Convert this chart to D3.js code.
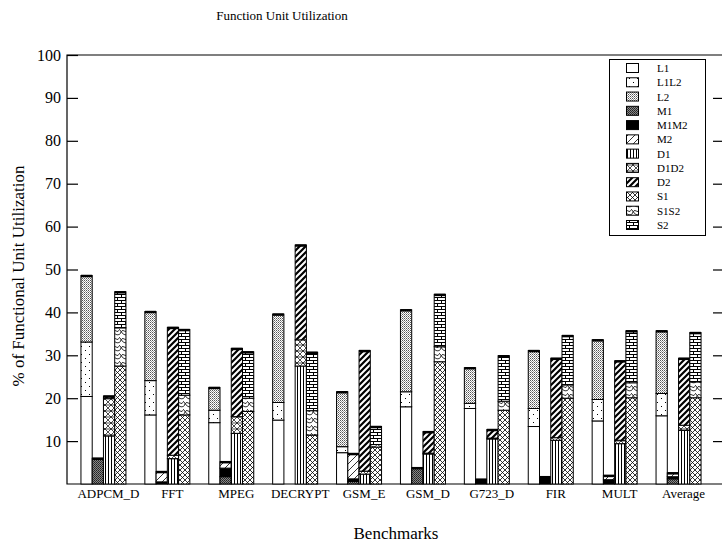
<!DOCTYPE html>
<html>
<head>
<meta charset="utf-8">
<script src="https://d3js.org/d3.v7.min.js"></script>
<style>
  html, body { margin: 0; padding: 0; background: #fff; }
  svg { display: block; font-family: "Liberation Serif", "Times New Roman", serif; }
</style>
</head>
<body>
<svg id="chart" width="722" height="546"></svg>
<script>
/* benchmarks and the four unit groups (L, M, D, S) */
const benchmarks = ["ADPCM_D","FFT","MPEG","DECRYPT","GSM_E","GSM_D","G723_D","FIR","MULT","Average"];
const units = ["L","M","D","S"];
const yTicks = [10,20,30,40,50,60,70,80,90,100];

/* % utilisation */
const L1   = [20.4, 16.1, 14.3, 14.9,  7.3, 18.0, 17.6, 13.4, 14.7, 15.9];
const L1L2 = [12.7,  8.0,  2.9,  4.1,  1.4,  3.5,  1.2,  4.2,  5.0,  5.2];
const L2   = [15.5, 16.1,  5.3, 20.6, 12.8, 19.1,  8.3, 13.5, 13.9, 14.6];
const M1   = [ 6.0,  0.0,  1.7,  0.0,  0.6,  3.8,  0.0,  0.0,  0.0,  1.2];
const M1M2 = [ 0.0,  0.5,  2.0,  0.0,  0.6,  0.0,  1.0,  1.4,  1.0,  0.5];
const M2   = [ 0.0,  2.4,  1.5,  0.0,  5.9,  0.0,  0.1,  0.3,  1.0,  0.9];
const D1   = [11.2,  5.9, 11.8, 27.5,  2.3,  7.0, 10.5, 10.2,  9.4, 12.5];
const D1D2 = [ 8.8,  0.8,  3.9,  6.1,  0.7,  0.2,  0.2,  0.6,  0.8,  1.2];
const D2   = [ 0.5, 29.8, 15.9, 22.1, 28.1,  5.0,  2.0, 18.5, 18.5, 15.6];
const S1   = [27.5, 16.1, 16.9, 11.4,  8.6, 28.5, 17.2, 20.0, 20.1, 20.1];
const S1S2 = [ 8.9,  4.6,  3.1,  5.7,  0.6,  3.5,  2.1,  3.1,  3.5,  3.7];
const S2   = [ 8.4, 15.3, 10.8, 13.6,  4.2, 12.2, 10.6, 11.5, 12.1, 11.5];

const series = {L1, L1L2, L2, M1, M1M2, M2, D1, D1D2, D2, S1, S1S2, S2};
const keys = Object.keys(series);
const unitKeys = { L:["L1","L1L2","L2"], M:["M1","M1M2","M2"], D:["D1","D1D2","D2"], S:["S1","S1S2","S2"] };

/* one row per benchmark */
const rows = benchmarks.map((b,i) => {
  const r = {bench:b};
  keys.forEach(k => r[k] = series[k][i]);
  return r;
});

const svg = d3.select("#chart");
const pLeft = 67, pRight = 724, pTop = 55, pBottom = 484;

const x  = d3.scaleBand().domain(benchmarks).range([71.5, 710.5]);
const xu = d3.scaleBand().domain(units).range([-22.5, 22.5]);
const y  = d3.scaleLinear().domain([0,100]).range([pBottom, pTop]);

/*────────── fill patterns ──────────*/
const defs = svg.append("defs");
function pat(id, w, h, draw){
  const p = defs.append("pattern").attr("id", id)
    .attr("patternUnits","userSpaceOnUse").attr("width", w).attr("height", h);
  p.append("rect").attr("width", w).attr("height", h).attr("fill", "#fff");
  draw(p);
}
pat("p-L1", 4, 4, () => {});
pat("p-L1L2", 8, 8, p => {
  p.append("rect").attr("x",1).attr("y",2).attr("width",1).attr("height",1).attr("fill","#000");
  p.append("rect").attr("x",5).attr("y",6).attr("width",1).attr("height",1).attr("fill","#000");
});
pat("p-L2", 2, 2, p => {
  p.append("rect").attr("width",1).attr("height",1).attr("fill","#555");
  p.append("rect").attr("x",1).attr("y",1).attr("width",1).attr("height",1).attr("fill","#999");
});
pat("p-M1", 2, 2, p => {
  p.select("rect").attr("fill","#888");
  p.append("rect").attr("width",1).attr("height",1).attr("fill","#222");
  p.append("rect").attr("x",1).attr("y",1).attr("width",1).attr("height",1).attr("fill","#333");
});
pat("p-M1M2", 2, 2, p => p.select("rect").attr("fill","#000"));
pat("p-M2", 7, 7, p => {
  p.append("path").attr("d","M0,7L7,0M-1,1L1,-1M6,8L8,6").attr("stroke","#000").attr("stroke-width",0.8);
});
pat("p-D1", 3, 3, p => {
  p.append("rect").attr("x",0).attr("width",1).attr("height",3).attr("fill","#000");
});
pat("p-D1D2", 6, 6, p => {
  p.append("path").attr("d","M0,0L6,6M6,0L0,6M0,3L6,3")
    .attr("stroke","#000").attr("stroke-width",0.7).attr("fill","none");
});
pat("p-D2", 6, 6, p => {
  p.append("path").attr("d","M0,6L6,0M-1.5,1.5L1.5,-1.5M4.5,7.5L7.5,4.5")
    .attr("stroke","#000").attr("stroke-width",2.2);
});
pat("p-S1", 5, 5, p => {
  p.append("path").attr("d","M0,0L5,5M5,0L0,5")
    .attr("stroke","#000").attr("stroke-width",0.8).attr("fill","none");
});
pat("p-S1S2", 8, 8, p => {
  p.append("path").attr("d","M0,6Q2,1 4,3T8,1M0,2Q4,9 8,6")
    .attr("stroke","#000").attr("stroke-width",0.8).attr("fill","none");
});
pat("p-S2", 8, 6, p => {
  p.append("path").attr("d","M0,0.5H8M0,3.5H8M1.5,0.5V3.5M5.5,3.5V6")
    .attr("stroke","#000").attr("stroke-width",1).attr("fill","none");
});

/*────────── frame + ticks ──────────*/
const frame = svg.append("g").attr("stroke","#000").attr("stroke-width",1.2).attr("fill","none");
frame.append("path").attr("d", `M${pRight},${pTop}H${pLeft}V${pBottom}H${pRight}V${pTop}`);

const gl = svg.append("g").attr("transform", `translate(${pLeft},0)`)
  .call(d3.axisRight(y).tickValues(yTicks).tickSize(11).tickFormat(""));
gl.select(".domain").remove();
gl.selectAll("line").attr("stroke","#000").attr("stroke-width",1.2);

const gr = svg.append("g").attr("transform", `translate(${pRight},0)`)
  .call(d3.axisLeft(y).tickValues(yTicks.slice(0,-1)).tickSize(11).tickFormat(""));
gr.select(".domain").remove();
gr.selectAll("line").attr("stroke","#000").attr("stroke-width",1.2);

svg.append("g").selectAll("text").data(yTicks).join("text")
  .attr("x", 61).attr("y", d => y(d) + 5.5)
  .attr("text-anchor","end").attr("font-size",16).text(d => d);

svg.append("g").selectAll("text").data(benchmarks).join("text")
  .attr("x", d => x(d) + x.bandwidth()/2 + 5).attr("y", 498)
  .attr("text-anchor","middle").attr("font-size",13).text(d => d);

/*────────── bars ──────────*/
const barW = xu.bandwidth();
units.forEach(u => {
  const stacked = d3.stack().keys(unitKeys[u])(rows);
  const g = svg.append("g");
  stacked.forEach(layer => {
    g.selectAll(null).data(layer.filter(d => d[1] - d[0] > 0)).join("rect")
      .attr("x", d => x(d.data.bench) + x.bandwidth()/2 + xu(u))
      .attr("y", d => y(d[1]))
      .attr("width", barW)
      .attr("height", d => y(d[0]) - y(d[1]))
      .attr("fill", `url(#p-${layer.key})`)
      .attr("stroke","#000").attr("stroke-width",1);
  });
  /* heavy top edge of each stack */
  const last = stacked[stacked.length-1];
  g.selectAll(null).data(last.filter(d => d[1] > 0)).join("line")
    .attr("x1", d => x(d.data.bench) + x.bandwidth()/2 + xu(u))
    .attr("x2", d => x(d.data.bench) + x.bandwidth()/2 + xu(u) + barW)
    .attr("y1", d => y(d[1]) + 0.5).attr("y2", d => y(d[1]) + 0.5)
    .attr("stroke","#000").attr("stroke-width",2.5);
});

/*────────── legend ──────────*/
const lg = svg.append("g");
lg.append("rect").attr("x",609.5).attr("y",59.5).attr("width",96).attr("height",176)
  .attr("fill","#fff").attr("stroke","#000").attr("stroke-width",1);
const ly = d3.scalePoint().domain(keys).range([68, 225]);
lg.selectAll("rect.sw").data(keys).join("rect").attr("class","sw")
  .attr("x",626.5).attr("y", d => ly(d) - 4.5).attr("width",12).attr("height",9)
  .attr("fill", d => `url(#p-${d})`).attr("stroke","#000").attr("stroke-width",1);
lg.selectAll("text").data(keys).join("text")
  .attr("x",657).attr("y", d => ly(d) + 4)
  .attr("font-size",11).text(d => d);

/*────────── titles ──────────*/
svg.append("text").attr("x",282).attr("y",20).attr("text-anchor","middle")
  .attr("font-size",13).text("Function Unit Utilization");
svg.append("text").attr("x",396).attr("y",539).attr("text-anchor","middle")
  .attr("font-size",17).text("Benchmarks");
svg.append("text").attr("transform","translate(24,276) rotate(-90)")
  .attr("text-anchor","middle").attr("font-size",17)
  .text("% of Functional Unit Utilization");
</script>
</body>
</html>
